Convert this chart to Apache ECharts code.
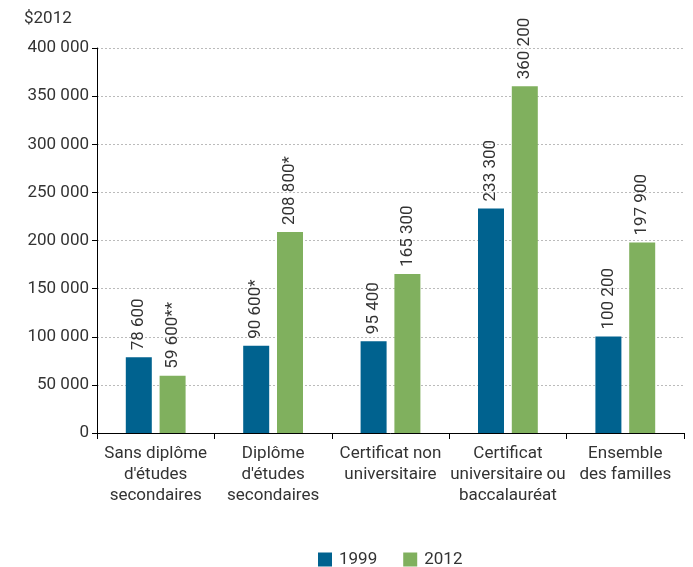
<!DOCTYPE html>
<html>
<head>
<meta charset="utf-8">
<script src="https://cdn.jsdelivr.net/npm/echarts@6/dist/echarts.min.js"></script>
<style>
  html, body { margin: 0; padding: 0; background: #fff; }
  #chart { width: 693px; height: 567px; }
</style>
</head>
<body>
<div id="chart"></div>
<script>
var categories = [
  "Sans diplôme\nd'études\nsecondaires",
  "Diplôme\nd'études\nsecondaires",
  "Certificat non\nuniversitaire",
  "Certificat\nuniversitaire ou\nbaccalauréat",
  "Ensemble\ndes familles"
];
var values1999 = [78600, 90600, 95400, 233300, 100200];
var values2012 = [59600, 208800, 165300, 360200, 197900];
var notes1999 = ['', '*', '', '', ''];
var notes2012 = ['**', '*', '', '', ''];

var font = 'Roboto, sans-serif';

function fmt(v) {
  return String(v).replace(/\B(?=(\d{3})+(?!\d))/g, ' ');
}

var chart = echarts.init(document.getElementById('chart'));
chart.setOption({
  animation: false,
  textStyle: { fontFamily: font },
  title: {
    text: '$2012',
    left: 19, top: 5,
    textStyle: { fontFamily: font, fontSize: 17, fontWeight: 'normal', color: '#333' }
  },
  grid: { left: 97, right: 9, top: 48, bottom: 134 },
  legend: {
    top: 546,
    left: 313,
    icon: 'rect',
    itemWidth: 14, itemHeight: 14,
    itemGap: 26,
    textStyle: { fontFamily: font, fontSize: 17, color: '#333', padding: [0, 0, 0, 2] }
  },
  xAxis: {
    type: 'category',
    data: categories,
    axisLine: { lineStyle: { color: '#000', width: 1 } },
    axisTick: { show: true, length: 6, alignWithLabel: false, lineStyle: { color: '#000' } },
    axisLabel: { fontFamily: font, fontSize: 17, color: '#333', lineHeight: 21, margin: 10, interval: 0 }
  },
  yAxis: {
    type: 'value',
    min: 0, max: 400000, interval: 50000,
    axisLine: { show: true, lineStyle: { color: '#000', width: 1 } },
    axisTick: { show: true, length: 5, lineStyle: { color: '#000' } },
    axisLabel: { fontFamily: font, fontSize: 17, color: '#333', margin: 8, formatter: fmt },
    splitLine: { lineStyle: { color: '#bbb', type: [2, 2], width: 1 } }
  },
  series: [
    {
      name: '1999', type: 'bar', data: values1999,
      barWidth: 26, barGap: '30%',
      itemStyle: { color: '#00628F' },
      label: {
        show: true, position: 'top', rotate: 90, align: 'left', verticalAlign: 'middle',
        distance: 7, fontFamily: font, fontSize: 17, color: '#333',
        formatter: function (p) { return fmt(p.value) + notes1999[p.dataIndex]; }
      }
    },
    {
      name: '2012', type: 'bar', data: values2012,
      barWidth: 26,
      itemStyle: { color: '#80B05E' },
      label: {
        show: true, position: 'top', rotate: 90, align: 'left', verticalAlign: 'middle',
        distance: 7, fontFamily: font, fontSize: 17, color: '#333',
        formatter: function (p) { return fmt(p.value) + notes2012[p.dataIndex]; }
      }
    }
  ]
});
</script>
</body>
</html>
